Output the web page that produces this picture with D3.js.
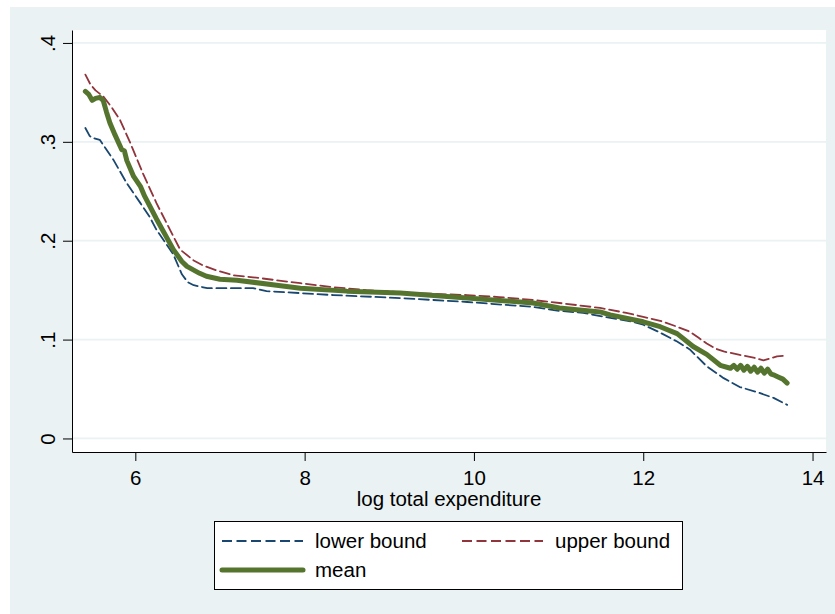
<!DOCTYPE html>
<html>
<head>
<meta charset="utf-8">
<style>
  body { margin: 0; background: #fff; }
  text { font-family: "Liberation Sans", Arial, sans-serif; fill: #000; }
</style>
</head>
<body>
<svg width="835" height="614"></svg>
<script src="https://d3js.org/d3.v7.min.js"></script>
<script>

// values: [log total expenditure, share]
var lowerBound = [
  [5.41,0.314],[5.46,0.306],[5.49,0.304],[5.58,0.302],[5.66,0.292],[5.74,0.282],
  [5.90,0.258],[6.06,0.238],[6.17,0.224],[6.25,0.211],[6.37,0.196],[6.45,0.186],
  [6.55,0.166],[6.62,0.158],[6.69,0.155],[6.85,0.152],[7.00,0.152],[7.39,0.152],
  [7.55,0.149],[8.34,0.145],[9.13,0.142],[9.92,0.138],[10.70,0.133],[11.01,0.129],
  [11.29,0.127],[11.61,0.122],[11.88,0.118],[12.00,0.115],[12.20,0.107],[12.40,0.098],
  [12.55,0.090],[12.75,0.073],[12.95,0.061],[13.14,0.052],[13.34,0.047],[13.54,0.041],
  [13.70,0.034]
];

var upperBound = [
  [5.41,0.368],[5.47,0.358],[5.53,0.352],[5.62,0.346],[5.72,0.335],[5.82,0.322],
  [5.94,0.299],[6.09,0.268],[6.25,0.238],[6.41,0.211],[6.53,0.191],[6.69,0.180],
  [6.80,0.175],[6.96,0.170],[7.16,0.165],[7.39,0.163],[7.67,0.160],[7.95,0.157],
  [8.34,0.153],[8.73,0.150],[9.30,0.147],[9.92,0.145],[10.30,0.143],[10.70,0.140],
  [11.01,0.137],[11.49,0.132],[11.80,0.127],[12.00,0.123],[12.20,0.119],[12.40,0.113],
  [12.55,0.108],[12.65,0.102],[12.75,0.096],[12.85,0.091],[12.95,0.088],[13.14,0.0845],
  [13.34,0.081],[13.42,0.079],[13.50,0.081],[13.58,0.083],[13.70,0.084]
];

var meanLine = [
  [5.41,0.351],[5.45,0.348],[5.49,0.342],[5.53,0.344],[5.58,0.345],[5.62,0.342],
  [5.66,0.330],[5.70,0.319],[5.76,0.307],[5.84,0.292],[5.87,0.291],[5.90,0.281],
  [5.98,0.265],[6.06,0.255],[6.11,0.245],[6.25,0.222],[6.45,0.191],[6.55,0.179],
  [6.61,0.174],[6.76,0.167],[6.84,0.164],[7.00,0.161],[7.20,0.160],[7.67,0.155],
  [7.95,0.152],[8.50,0.149],[9.13,0.147],[9.92,0.142],[10.70,0.137],[11.01,0.132],
  [11.49,0.128],[11.61,0.125],[12.00,0.118],[12.20,0.113],[12.40,0.106],[12.59,0.093],
  [12.75,0.085],[12.91,0.074],[13.03,0.071],[13.07,0.074],[13.11,0.070],[13.15,0.074],
  [13.19,0.069],[13.23,0.073],[13.27,0.068],[13.31,0.072],[13.35,0.067],[13.39,0.071],
  [13.43,0.066],[13.47,0.070],[13.51,0.065],[13.55,0.064],[13.60,0.062],[13.65,0.060],
  [13.70,0.056]
];

var xTicks = [6, 8, 10, 12, 14];
var yTicks = [0, 0.1, 0.2, 0.3, 0.4];

var series = [
  {name: "lower bound", data: lowerBound, color: "#1a476f", width: 1.8, dash: "10,4.5"},
  {name: "upper bound", data: upperBound, color: "#90353b", width: 1.8, dash: "10,4.5"},
  {name: "mean", data: meanLine, color: "#55752f", width: 5, dash: null}
];

var svg = d3.select("svg");
var plot = {left: 72, right: 826, top: 30, bottom: 452};

// backgrounds
svg.append("rect").attr("x", 10).attr("y", 7).attr("width", 825).attr("height", 607)
    .attr("fill", "#eaf2f3");
svg.append("rect").attr("x", plot.left).attr("y", plot.top)
    .attr("width", plot.right - plot.left).attr("height", plot.bottom - plot.top)
    .attr("fill", "#fff");

var x = d3.scaleLinear().domain([5.252, 14.159]).range([plot.left, plot.right]);
var y = d3.scaleLinear().domain([-0.0137, 0.4131]).range([plot.bottom, plot.top]);

// grid
svg.append("g").selectAll("line").data(yTicks).join("line")
    .attr("x1", plot.left).attr("x2", plot.right)
    .attr("y1", function(d) { return y(d); }).attr("y2", function(d) { return y(d); })
    .attr("stroke", "#eaf2f3").attr("stroke-width", 1.8);

// lines
var line = d3.line().x(function(d) { return x(d[0]); }).y(function(d) { return y(d[1]); });

svg.append("g").selectAll("path").data(series).join("path")
    .attr("d", function(s) { return line(s.data); })
    .attr("fill", "none")
    .attr("stroke", function(s) { return s.color; })
    .attr("stroke-width", function(s) { return s.width; })
    .attr("stroke-dasharray", function(s) { return s.dash; })
    .attr("stroke-linejoin", "round")
    .attr("stroke-linecap", "round");

// axes
var xAxis = svg.append("g").attr("transform", "translate(0," + plot.bottom + ")")
    .call(d3.axisBottom(x).tickValues(xTicks).tickSize(9).tickSizeOuter(0).tickFormat(d3.format("d")));
xAxis.selectAll("text").attr("y", 0).attr("dy", 0).attr("transform", "translate(0,33)")
    .style("font-size", "20.5px");

var yAxis = svg.append("g").attr("transform", "translate(" + plot.left + ",0)")
    .call(d3.axisLeft(y).tickValues(yTicks).tickSize(9).tickSizeOuter(0)
      .tickFormat(function(d) { return d === 0 ? "0" : d3.format(".1f")(d).replace(/^0/, ""); }));
yAxis.selectAll("text").attr("x", 0).attr("dy", 0)
    .attr("text-anchor", "middle").attr("transform", "translate(-17,0) rotate(-90)")
    .style("font-size", "20.5px");

svg.selectAll(".domain, .tick line").attr("stroke", "#000").attr("stroke-width", 1);
svg.selectAll(".tick text").attr("font-family", null);

svg.append("text").attr("x", (plot.left + plot.right) / 2).attr("y", 506)
    .attr("text-anchor", "middle").style("font-size", "20.5px")
    .text("log total expenditure");

// legend
var legend = svg.append("g");
legend.append("rect").attr("x", 214.5).attr("y", 521.5).attr("width", 468).attr("height", 68)
    .attr("fill", "#fff").attr("stroke", "#000").attr("stroke-width", 1);

var legendPos = [[222, 541], [462, 541], [222, 570]];
var item = legend.selectAll("g.item").data(series).join("g").attr("class", "item")
    .attr("transform", function(s, i) { return "translate(" + legendPos[i][0] + "," + legendPos[i][1] + ")"; });
item.append("line").attr("x1", 0).attr("x2", 81).attr("y1", 0).attr("y2", 0)
    .attr("stroke", function(s) { return s.color; })
    .attr("stroke-width", function(s) { return s.width; })
    .attr("stroke-dasharray", function(s) { return s.dash; })
    .attr("stroke-linecap", function(s) { return s.dash ? "butt" : "round"; });
item.append("text").attr("x", 93).attr("y", 7).style("font-size", "20.5px")
    .text(function(s) { return s.name; });

</script>
</body>
</html>
